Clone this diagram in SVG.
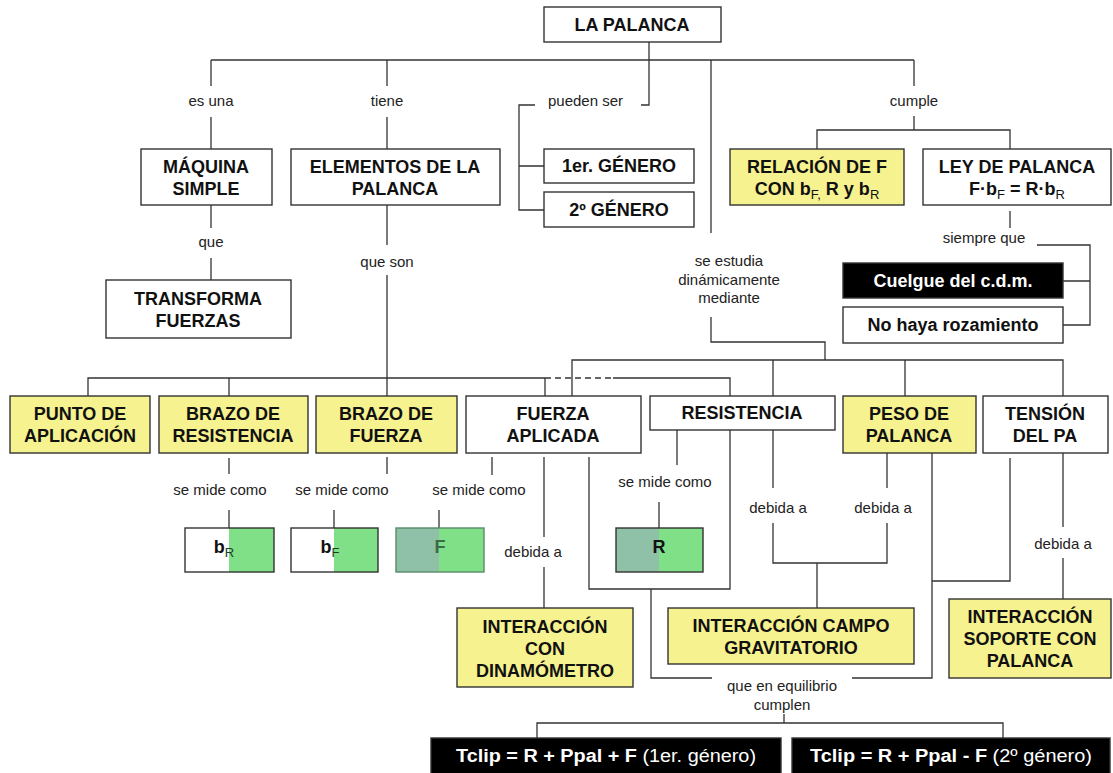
<svg xmlns="http://www.w3.org/2000/svg" width="1113" height="773" viewBox="0 0 1113 773">
<style>
.bx{fill:#fff;stroke:#333;stroke-width:1.4}
.ye{fill:#f6f290;stroke:#333;stroke-width:1.4}
.bk{fill:#000;stroke:#333;stroke-width:1.4}
.t{font-family:"Liberation Sans",Arial,sans-serif;font-weight:bold;font-size:18px;fill:#111;text-anchor:middle}
.tw{font-family:"Liberation Sans",Arial,sans-serif;font-weight:bold;font-size:18px;fill:#fff;text-anchor:middle}
.l{font-family:"Liberation Sans",Arial,sans-serif;font-size:15px;fill:#222;text-anchor:middle}
.s{font-size:13px;font-weight:normal}
.c{fill:none;stroke:#333;stroke-width:1.3}
</style>
<rect width="1113" height="773" fill="#fff"/>
<g id="connectors" class="c">
<path d="M649,42 V105 H641"/>
<path d="M211,60 H914"/>
<path d="M211,60 V86 M211,117 V149"/>
<path d="M387,60 V86 M387,117 V149"/>
<path d="M711,60 V233 M711,317 V342 H825 V360"/>
<path d="M914,60 V86 M914,116 V130 M817,149 V130 H1010 V149"/>
<path d="M535,105 H519 V210 H544 M519,166 H544"/>
<path d="M211,205 V228 M211,258 V280"/>
<path d="M387,205 V245 M387,275 V396"/>
<path d="M88,396 V378 H545 M613,378 H730 V396 M229,378 V396 M545,378 V396"/>
<path d="M545,378 H613" stroke-dasharray="6,4"/>
<path d="M572,396 V360 H1063 V396 M773,360 V396 M905,360 V396"/>
<path d="M1010,211 V228"/>
<path d="M1037,245 H1090 V325 H1063 M1090,281 H1063"/>
<path d="M229,458 V474 M229,510 V528"/>
<path d="M387,457 V474 M334,510 V528"/>
<path d="M492,457 V475 M439,510 V528"/>
<path d="M544,457 V537 M544,567 V608"/>
<path d="M589,457 V589 H730 V430"/>
<path d="M651,589 V678 H712 M852,678 H932 V453"/>
<path d="M677,430 V465 M659,502 V528"/>
<path d="M773,430 V488 M773,523 V563 H887 V523 M887,488 V453 M817,563 V608"/>
<path d="M1010,458 V581 H932"/>
<path d="M1063,453 V527 M1063,558 V599"/>
<path d="M784,714 V723 M537,738 V723 H1003 V738"/>
</g>
<g id="labels">
<text class="l" x="211" y="106">es una</text>
<text class="l" x="387" y="106">tiene</text>
<text class="l" x="548" y="106" text-anchor="start" style="text-anchor:start">pueden ser</text>
<text class="l" x="914" y="106">cumple</text>
<text class="l" x="211" y="247">que</text>
<text class="l" x="387" y="267">que son</text>
<text class="l" x="729" y="266">se estudia</text>
<text class="l" x="729" y="285">dinámicamente</text>
<text class="l" x="729" y="303">mediante</text>
<text class="l" x="984" y="243">siempre que</text>
<text class="l" x="220" y="495">se mide como</text>
<text class="l" x="342" y="495">se mide como</text>
<text class="l" x="479" y="495">se mide como</text>
<text class="l" x="665" y="487">se mide como</text>
<text class="l" x="533" y="557">debida a</text>
<text class="l" x="778" y="513">debida a</text>
<text class="l" x="883" y="513">debida a</text>
<text class="l" x="1063" y="549">debida a</text>
<text class="l" x="782" y="691">que en equilibrio</text>
<text class="l" x="782" y="710">cumplen</text>
</g>
<g id="n-palanca"><rect class="bx" x="544" y="7" width="177" height="35"/><text class="t" x="632" y="31">LA PALANCA</text></g>
<g id="n-maquina"><rect class="bx" x="141" y="149" width="131" height="56"/><text class="t" x="206" y="173">MÁQUINA</text><text class="t" x="206" y="195">SIMPLE</text></g>
<g id="n-elementos"><rect class="bx" x="291" y="149" width="209" height="56"/><text class="t" x="395" y="173">ELEMENTOS DE LA</text><text class="t" x="395" y="195">PALANCA</text></g>
<g id="n-genero1"><rect class="bx" x="544" y="149" width="150" height="34"/><text class="t" x="619" y="172">1er. GÉNERO</text></g>
<g id="n-genero2"><rect class="bx" x="544" y="192" width="150" height="35"/><text class="t" x="619" y="216">2º GÉNERO</text></g>
<g id="n-relacion"><rect class="ye" x="730" y="149" width="174" height="56"/><text class="t" x="817" y="173">RELACIÓN DE F</text><text class="t" x="817" y="195">CON b<tspan class="s" dy="4">F,</tspan><tspan dy="-4"> R y b</tspan><tspan class="s" dy="4">R</tspan></text></g>
<g id="n-ley"><rect class="bx" x="923" y="149" width="188" height="56"/><text class="t" x="1017" y="173">LEY DE PALANCA</text><text class="t" x="1017" y="195">F·b<tspan class="s" dy="4">F</tspan><tspan dy="-4"> = R·b</tspan><tspan class="s" dy="4">R</tspan></text></g>
<g id="n-transforma"><rect class="bx" x="106" y="280" width="185" height="58"/><text class="t" x="198" y="305">TRANSFORMA</text><text class="t" x="198" y="327">FUERZAS</text></g>
<g id="n-cuelgue"><rect class="bk" x="843" y="263" width="220" height="35"/><text class="tw" x="953" y="287">Cuelgue del c.d.m.</text></g>
<g id="n-rozamiento"><rect class="bx" x="843" y="307" width="220" height="36"/><text class="t" x="953" y="331">No haya rozamiento</text></g>
<g id="n-punto"><rect class="ye" x="10" y="396" width="140" height="57"/><text class="t" x="80" y="420">PUNTO DE</text><text class="t" x="80" y="442">APLICACIÓN</text></g>
<g id="n-brazores"><rect class="ye" x="159" y="396" width="149" height="57"/><text class="t" x="233" y="420">BRAZO DE</text><text class="t" x="233" y="442">RESISTENCIA</text></g>
<g id="n-brazofue"><rect class="ye" x="316" y="396" width="141" height="57"/><text class="t" x="386" y="420">BRAZO DE</text><text class="t" x="386" y="442">FUERZA</text></g>
<g id="n-fuerza"><rect class="bx" x="466" y="396" width="175" height="57"/><text class="t" x="553" y="420">FUERZA</text><text class="t" x="553" y="442">APLICADA</text></g>
<g id="n-resistencia"><rect class="bx" x="650" y="396" width="185" height="34"/><text class="t" x="742" y="419">RESISTENCIA</text></g>
<g id="n-peso"><rect class="ye" x="843" y="396" width="133" height="57"/><text class="t" x="909" y="420">PESO DE</text><text class="t" x="909" y="442">PALANCA</text></g>
<g id="n-tension"><rect class="bx" x="983" y="396" width="125" height="57"/><text class="t" x="1045" y="420">TENSIÓN</text><text class="t" x="1045" y="442">DEL PA</text></g>
<g id="n-bR"><rect x="185" y="528" width="89" height="44" fill="#fff"/><rect x="229" y="528" width="45" height="44" fill="#80e088"/><rect class="bx" x="185" y="528" width="89" height="44" fill="none" style="fill:none"/><text class="t" x="224" y="553">b<tspan class="s" dy="4" style="fill:#1d3d1d">R</tspan></text></g>
<g id="n-bF"><rect x="291" y="528" width="87" height="44" fill="#fff"/><rect x="334" y="528" width="44" height="44" fill="#80e088"/><rect class="bx" x="291" y="528" width="87" height="44" style="fill:none"/><text class="t" x="330" y="553">b<tspan class="s" dy="4" style="fill:#1d3d1d">F</tspan></text></g>
<g id="n-F"><rect x="396" y="528" width="43" height="44" fill="#8fc0a8"/><rect x="439" y="528" width="45" height="44" fill="#80e088"/><rect class="bx" x="396" y="528" width="88" height="44" style="fill:none;stroke:#5a8a6a"/><text class="t" x="440" y="553" style="fill:#3d6b45">F</text></g>
<g id="n-R"><rect x="616" y="528" width="43" height="44" fill="#8fc0a8"/><rect x="659" y="528" width="44" height="44" fill="#80e088"/><rect class="bx" x="616" y="528" width="87" height="44" style="fill:none"/><text class="t" x="659" y="553">R</text></g>
<g id="n-dinamometro"><rect class="ye" x="457" y="608" width="176" height="79"/><text class="t" x="545" y="633">INTERACCIÓN</text><text class="t" x="545" y="655">CON</text><text class="t" x="545" y="677">DINAMÓMETRO</text></g>
<g id="n-campo"><rect class="ye" x="668" y="608" width="246" height="56"/><text class="t" x="791" y="632">INTERACCIÓN CAMPO</text><text class="t" x="791" y="654">GRAVITATORIO</text></g>
<g id="n-soporte"><rect class="ye" x="949" y="599" width="162" height="79"/><text class="t" x="1030" y="623">INTERACCIÓN</text><text class="t" x="1030" y="645">SOPORTE CON</text><text class="t" x="1030" y="667">PALANCA</text></g>
<g id="n-tclip1"><rect class="bk" x="431" y="738" width="350" height="40"/><text class="tw" x="606" y="762" textLength="300" lengthAdjust="spacingAndGlyphs">Tclip = R + Ppal + F <tspan style="font-weight:normal">(1er. género)</tspan></text></g>
<g id="n-tclip2"><rect class="bk" x="792" y="738" width="318" height="40"/><text class="tw" x="951" y="762" textLength="282" lengthAdjust="spacingAndGlyphs">Tclip = R + Ppal - F  <tspan style="font-weight:normal">(2º género)</tspan></text></g>
</svg>
